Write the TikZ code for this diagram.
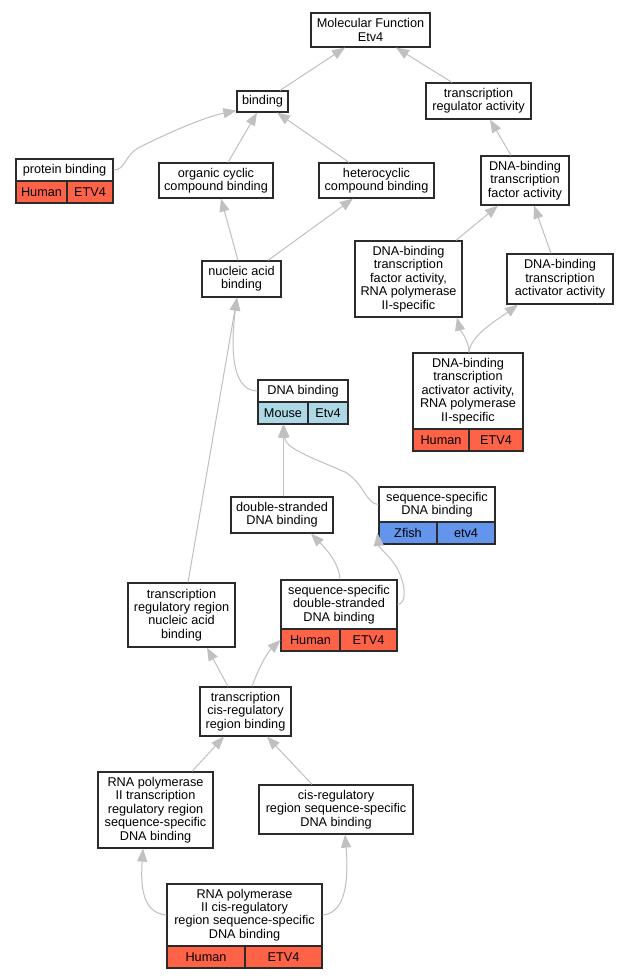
\documentclass[tikz,border=0pt]{standalone}
\usepackage{fontspec}
\setmainfont{Liberation Sans}
\usetikzlibrary{arrows.meta}
\definecolor{human}{HTML}{FF6347}
\definecolor{mouse}{HTML}{ADD8E6}
\definecolor{zfish}{HTML}{6495ED}
\definecolor{edgecol}{HTML}{C0C0C0}
\definecolor{bordercol}{HTML}{2B2B2B}
\begin{document}
\begin{tikzpicture}[x=1pt,y=-1pt,
  box/.style={draw=bordercol, line width=1.2pt, fill=white, align=center, inner sep=0pt, font=\fontsize{12.7}{13.4}\selectfont},
  sz/.style 2 args={minimum width=#1pt, minimum height=#2pt},
  link/.style={draw=edgecol, line width=1pt, -{Triangle[length=13pt,width=10pt]}}
]
\fill[white] (0,0) rectangle (629,979);
\useasboundingbox (0,0) rectangle (629,979);

\node[box, sz={119}{34}] (mf) at (370.5,30) {Molecular Function\\Etv4};
\node[box, sz={51}{21}] (binding) at (262.5,101.5) {binding};
\node[box, sz={105}{36}] (tra) at (478.5,101) {transcription\\regulator activity};
\node[box, sz={97}{22}] (pb) at (64.5,170) {protein binding};
\node[box, fill=human, sz={51}{22}] (pbl) at (41.5,192) {Human};
\node[box, fill=human, sz={46}{22}] (pbr) at (90,192) {ETV4};
\node[box, sz={114}{35}] (occb) at (216,180.5) {organic cyclic\\compound binding};
\node[box, sz={115}{35}] (hcb) at (376.5,180.5) {heterocyclic\\compound binding};
\node[box, sz={88}{49}] (dbtfa) at (525,180.5) {DNA-binding\\transcription\\factor activity};
\node[box, sz={79}{36}] (nab) at (241.5,279) {nucleic acid\\binding};
\node[box, sz={107}{76}] (dbtfarna) at (408.5,279) {DNA-binding\\transcription\\factor activity,\\RNA polymerase\\II-specific};
\node[box, sz={106}{50}] (dbtaa) at (560,279) {DNA-binding\\transcription\\activator activity};
\node[box, sz={110}{76}] (dbtaarna) at (468,391) {DNA-binding\\transcription\\activator activity,\\RNA polymerase\\II-specific};
\node[box, fill=human, sz={56}{22}] (dbtaarnal) at (441,440) {Human};
\node[box, fill=human, sz={54}{22}] (dbtaarnar) at (496,440) {ETV4};
\node[box, sz={90}{22}] (dnab) at (303,391) {DNA binding};
\node[box, fill=mouse, sz={50}{22}] (dnabl) at (283,413) {Mouse};
\node[box, fill=mouse, sz={40}{22}] (dnabr) at (328,413) {Etv4};
\node[box, sz={102}{36}] (dsdb) at (282,515) {double-stranded\\DNA binding};
\node[box, sz={116}{35}] (ssdb) at (437,504.5) {sequence-specific\\DNA binding};
\node[box, fill=zfish, sz={58}{22}] (ssdbl) at (408,533) {Zfish};
\node[box, fill=zfish, sz={58}{22}] (ssdbr) at (466,533) {etv4};
\node[box, sz={107}{64}] (trrnab) at (181.5,615) {transcription\\regulatory region\\nucleic acid\\binding};
\node[box, sz={116}{49}] (ssdsdb) at (339,604.5) {sequence-specific\\double-stranded\\DNA binding};
\node[box, fill=human, sz={59}{22}] (ssdsdbl) at (310.5,640) {Human};
\node[box, fill=human, sz={57}{22}] (ssdsdbr) at (368.5,640) {ETV4};
\node[box, sz={91}{49}] (tcrb) at (245.5,711.5) {transcription\\cis-regulatory\\region binding};
\node[box, sz={115}{76}] (rnap2trr) at (155.5,810) {RNA polymerase\\II transcription\\regulatory region\\sequence-specific\\DNA binding};
\node[box, sz={154}{49}] (crrssdb) at (336,809.5) {cis-regulatory\\region sequence-specific\\DNA binding};
\node[box, sz={155}{62}] (rnap2crr) at (244.5,915) {RNA polymerase\\II cis-regulatory\\region sequence-specific\\DNA binding};
\node[box, fill=human, sz={78}{22}] (rnap2crrl) at (206,957) {Human};
\node[box, fill=human, sz={77}{22}] (rnap2crrr) at (283.5,957) {ETV4};

\draw[link] ([xshift=17.5pt]binding.north) -- ([xshift=-25.5pt]mf.south);
\draw[link] ([xshift=-26.5pt]tra.north) -- ([xshift=25.5pt]mf.south);
\draw[link] (pb.east) .. controls (126,170) and (124,155) .. (140,147) .. controls (170,132) and (205,117) .. ([yshift=2pt]binding.south west);
\draw[link] ([xshift=12pt]occb.north) -- ([xshift=-5.5pt]binding.south);
\draw[link] ([xshift=-27.5pt]hcb.north) -- ([xshift=14.5pt]binding.south);
\draw[link] ([xshift=-3.5pt]nab.north) -- ([xshift=5pt]occb.south);
\draw[link] ([xshift=26.5pt]nab.north) -- ([xshift=-23.5pt]hcb.south);
\draw[link] ([xshift=-14pt]dbtfa.north) -- ([xshift=11.5pt]tra.south);
\draw[link] ([xshift=47.5pt]dbtfarna.north) -- ([xshift=-27pt]dbtfa.south);
\draw[link] ([xshift=-9pt]dbtaa.north) -- ([xshift=9pt]dbtfa.south);
\draw[link] ([xshift=1pt]dbtaarna.north) .. controls (469,340) and (460,330) .. ([xshift=48.5pt]dbtfarna.south);
\draw[link] ([xshift=1pt]dbtaarna.north) .. controls (470,335) and (500,318) .. ([xshift=-42pt]dbtaa.south);
\draw[link] (dnab.west) .. controls (228,391) and (232,335) .. ([xshift=-4.5pt]nab.south);
\draw[link] ([xshift=6.5pt]trrnab.north) -- ([xshift=-4.5pt]nab.south);
\draw[link] ([xshift=1pt]dsdb.north) -- (dnabl.south);
\draw[link] (ssdb.west) .. controls (366,504) and (364,483) .. (345,472) .. controls (310,457) and (285,448) .. ([xshift=1pt]dnabl.south);
\draw[link] ([xshift=1pt]ssdsdb.north) .. controls (339,562) and (325,548) .. ([xshift=29pt]dsdb.south);
\draw[link] (ssdsdb.east) .. controls (407,604) and (406,585) .. (397,568) .. controls (390,556) and (379,548) .. ([xshift=-1pt]ssdbl.west);
\draw[link] ([xshift=-17.5pt]tcrb.north) -- ([xshift=25.5pt]trrnab.south);
\draw[link] ([xshift=6.5pt]tcrb.north) .. controls (256,675) and (265,655) .. (ssdsdbl.west);
\draw[link] ([xshift=36.5pt]rnap2trr.north) -- ([xshift=-21.5pt]tcrb.south);
\draw[link] ([xshift=-24pt]crrssdb.north) -- ([xshift=21.5pt]tcrb.south);
\draw[link] (rnap2crr.west) .. controls (140,913) and (141,880) .. ([xshift=-12.5pt]rnap2trr.south);
\draw[link] (rnap2crr.east) .. controls (349,913) and (348,870) .. ([xshift=9pt]crrssdb.south);
\end{tikzpicture}
\end{document}
